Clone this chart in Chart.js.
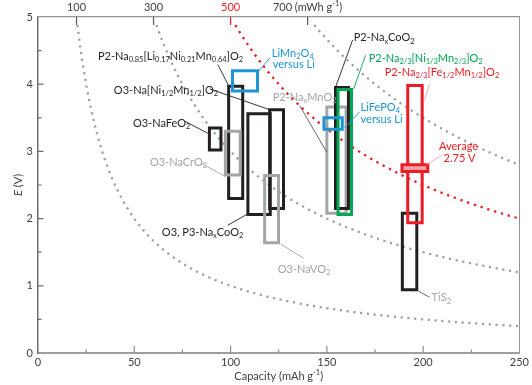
<!DOCTYPE html>
<html>
<head>
<meta charset="utf-8">
<script src="https://cdn.jsdelivr.net/npm/chart.js@4.4.0/dist/chart.umd.min.js"></script>
<style>
  html, body { margin: 0; padding: 0; background: #fff; }
  .canvas-container { width: 532px; height: 385px; }
</style>
</head>
<body>
<div class="canvas-container"><canvas id="chart"></canvas></div>
<script>
// capacity window (mAh/g) and voltage window (V) of each electrode
// listed in drawing order, bottom first
const materials = [
  'P2-NaxMnO2', 'O3-NaFeO2', 'P2-Na0.85[Li0.17Ni0.21Mn0.64]O2', 'O3,P3-NaxCoO2',
  'O3-Na[Ni1/2Mn1/2]O2', 'TiS2', 'P2-NaxCoO2', 'O3-NaCrO2', 'O3-NaVO2',
  'P2-Na2/3[Ni1/3Mn2/3]O2', 'P2-Na2/3[Fe1/2Mn1/2]O2', 'Average', 'LiMn2O4', 'LiFePO4'
];
const capacityMin = [150, 89, 99, 109, 120.3, 189.2, 154.5, 97.3, 117.7, 155.8, 192, 189, 101, 148.5];
const capacityMax = [160, 95, 106.3, 120.6, 127.5, 196.7, 161.2, 105, 124.9, 162.8, 199.5, 202.4, 114, 158];
const voltageMin = [2.08, 3.02, 2.3, 2.06, 2.15, 0.94, 2.15, 2.65, 1.64, 2.06, 1.94, 2.70, 3.9, 3.33];
const voltageMax = [3.66, 3.35, 3.97, 3.56, 3.62, 2.08, 3.95, 3.3, 2.64, 3.92, 3.98, 2.80, 4.2, 3.5];

// iso-energy curves (mWh/g) and their labels on the top axis
const energyLevels = [100, 300, 500, 700];
const energyLabels = ['100', '300', '500', '700 (mWh g^{-1})'];

const BLACK = '#231f20', GRAY = '#a3a5a8', BLUE = '#1b95d3', GREEN = '#00a651',
      RED = '#ed1c24', PINK = '#f4a3a8', AXIS_TEXT = '#414042';

const boxColor = {
  'P2-NaxMnO2': GRAY, 'O3-NaCrO2': GRAY, 'O3-NaVO2': GRAY,
  'P2-Na2/3[Ni1/3Mn2/3]O2': GREEN, 'P2-Na2/3[Fe1/2Mn1/2]O2': RED, 'Average': RED,
  'LiMn2O4': BLUE, 'LiFePO4': BLUE
};
const boxFill = { 'Average': PINK };

// text labels, placed in data units, with leader lines
const notes = [
  {text: 'P2-Na_{0.85}[Li_{0.17}Ni_{0.21}Mn_{0.64}]O_{2}', color: BLACK, at: [31.1, 4.42], leader: [93.4, 4.29, 99.1, 3.97]},
  {text: 'O3-Na[Ni_{1/2}Mn_{1/2}]O_{2}', color: BLACK, at: [39.4, 3.91], leader: [89.2, 3.93, 120.3, 3.62]},
  {text: 'O3-NaFeO_{2}', color: BLACK, at: [49.3, 3.42], leader: [76.2, 3.45, 88.2, 3.27]},
  {text: 'O3-NaCrO_{2}', color: GRAY, at: [58.1, 2.84], leader: [84.5, 2.83, 97.0, 2.63]},
  {text: 'O3, P3-Na_{x}CoO_{2}', color: BLACK, at: [64.3, 1.79], leader: [98.5, 1.90, 108.9, 2.07]},
  {text: 'O3-NaVO_{2}', color: GRAY, at: [124.5, 1.25], leader: [138.0, 1.41, 126.0, 1.62]},
  {text: 'TiS_{2}', color: GRAY, at: [204.4, 0.82], leader: [197.6, 0.92, 203.3, 0.83], leaderColor: '#58595b'},
  {text: 'LiMn_{2}O_{4}', color: BLUE, at: [121.4, 4.46], leader: [120.3, 4.39, 114.1, 4.18]},
  {text: 'versus Li', color: BLUE, at: [121.9, 4.29]},
  {text: 'P2-Na_{x}MnO_{2}', color: GRAY, at: [121.9, 3.81], leader: [135.9, 3.68, 149.9, 2.99], leaderColor: '#58595b'},
  {text: 'P2-Na_{x}CoO_{2}', color: BLACK, at: [163.9, 4.69], leader: [163.4, 4.66, 154.6, 3.96]},
  {text: 'P2-Na_{2/3}[Ni_{1/3}Mn_{2/3}]O_{2}', color: GREEN, at: [171.7, 4.38], leader: [170.1, 4.43, 163.9, 3.93]},
  {text: 'P2-Na_{2/3}[Fe_{1/2}Mn_{1/2}]O_{2}', color: RED, at: [180.0, 4.17], leader: [203.3, 4.0, 200.7, 3.76], leaderColor: PINK},
  {text: 'LiFePO_{4}', color: BLUE, at: [167.5, 3.65], leader: [159.2, 3.35, 167.0, 3.59]},
  {text: 'versus Li', color: BLUE, at: [167.5, 3.47]},
  {text: 'Average', color: RED, at: [218.4, 3.07], align: 'center', leader: [201.8, 2.80, 210.1, 2.95], leaderColor: PINK},
  {text: '2.75 V', color: RED, at: [218.9, 2.89], align: 'center'}
];

const FONT = 'Lato';

function parseRich(str) {
  const out = [];
  let i = 0;
  const isMark = (k) => (str[k] === '_' || str[k] === '^' || str[k] === '*') && str[k + 1] === '{';
  while (i < str.length) {
    if (isMark(i)) {
      const end = str.indexOf('}', i);
      out.push({t: str.slice(i + 2, end), mode: str[i]});
      i = end + 1;
    } else {
      let j = i;
      while (j < str.length && !isMark(j)) j++;
      out.push({t: str.slice(i, j), mode: 'n'});
      i = j;
    }
  }
  return out;
}

function drawRich(ctx, str, x, y, color, align, size) {
  size = size || 11;
  const segs = parseRich(str);
  const fontFor = (s) => {
    if (s.mode === '*') return 'italic ' + size + 'px ' + FONT;
    return (s.mode === 'n' ? size : size * 0.68) + 'px ' + FONT;
  };
  let w = 0;
  segs.forEach(s => { ctx.font = fontFor(s); s.w = ctx.measureText(s.t).width; w += s.w; });
  let cx = align === 'center' ? x - w / 2 : (align === 'right' ? x - w : x);
  ctx.fillStyle = color;
  ctx.textAlign = 'left';
  ctx.textBaseline = 'middle';
  segs.forEach(s => {
    ctx.font = fontFor(s);
    const dy = s.mode === '_' ? size * 0.3 : (s.mode === '^' ? -size * 0.32 : 0);
    ctx.fillText(s.t, cx, y + dy);
    cx += s.w;
  });
}

const datasets = materials.map((m, i) => {
  const x0 = capacityMin[i], x1 = capacityMax[i], y0 = voltageMin[i], y1 = voltageMax[i];
  return {
    label: m,
    data: [{x: x0, y: y0}, {x: x1, y: y0}, {x: x1, y: y1}, {x: x0, y: y1}, {x: x0, y: y0}, {x: x1, y: y0}],
    showLine: true,
    borderColor: boxColor[m] || BLACK,
    backgroundColor: boxFill[m] || 'transparent',
    fill: boxFill[m] ? 'shape' : false,
    borderWidth: 3,
    borderJoinStyle: 'miter',
    pointRadius: 0,
    tension: 0,
    order: materials.length - i
  };
});

const overlay = {
  id: 'overlay',
  beforeDatasetsDraw(chart) {
    const {ctx, chartArea: a, scales: {x, y, xTop}} = chart;
    ctx.save();
    ctx.beginPath();
    ctx.rect(a.left, a.top, a.right - a.left, a.bottom - a.top);
    ctx.clip();
    // iso-energy curves E = W / C
    energyLevels.forEach(w => {
      ctx.beginPath();
      let first = true;
      for (let c = w / 4.88; c <= 250.5; c += 0.5) {
        const px = x.getPixelForValue(c), py = y.getPixelForValue(w / c);
        if (first) { ctx.moveTo(px, py); first = false; } else ctx.lineTo(px, py);
      }
      ctx.strokeStyle = w === 500 ? RED : '#9d9fa2';
      ctx.lineWidth = 2.3;
      ctx.setLineDash(w === 500 ? [2.3, 4.8] : [2.2, 4.6]);
      ctx.stroke();
    });
    ctx.setLineDash([]);
    // inward ticks
    ctx.lineWidth = 1.2;
    ctx.strokeStyle = '#6d6e71';
    for (let v = 0.5; v < 5; v += 0.5) {
      const py = y.getPixelForValue(v);
      const len = Number.isInteger(v) ? 5.5 : 3.5;
      ctx.beginPath(); ctx.moveTo(a.left, py); ctx.lineTo(a.left + len, py); ctx.stroke();
    }
    ctx.strokeStyle = '#8a8c8f';
    for (let c = 25; c < 250; c += 25) {
      const px = x.getPixelForValue(c);
      const len = c % 50 === 0 ? 7 : 3.5;
      ctx.beginPath(); ctx.moveTo(px, a.bottom); ctx.lineTo(px, a.bottom - len); ctx.stroke();
    }
    energyLevels.forEach(w => {
      const px = xTop.getPixelForValue(w);
      ctx.strokeStyle = w === 500 ? RED : '#58595b';
      ctx.beginPath(); ctx.moveTo(px, a.top); ctx.lineTo(px, a.top + 8); ctx.stroke();
    });
    ctx.restore();
  },
  afterDatasetsDraw(chart) {
    const {ctx, chartArea: a, scales: {x, y, xTop}} = chart;
    ctx.save();
    notes.forEach(n => {
      if (n.leader) {
        const l = n.leader;
        ctx.beginPath();
        ctx.moveTo(x.getPixelForValue(l[0]), y.getPixelForValue(l[1]));
        ctx.lineTo(x.getPixelForValue(l[2]), y.getPixelForValue(l[3]));
        ctx.strokeStyle = n.leaderColor || n.color;
        ctx.lineWidth = 0.9;
        ctx.stroke();
      }
    });
    notes.forEach(n => {
      drawRich(ctx, n.text, x.getPixelForValue(n.at[0]), y.getPixelForValue(n.at[1]), n.color, n.align || 'left', 11);
    });
    // top axis labels
    energyLevels.forEach((w, i) => {
      drawRich(ctx, energyLabels[i], xTop.getPixelForValue(w), 7, w === 500 ? RED : AXIS_TEXT, 'center', 11);
    });
    // axis titles
    drawRich(ctx, 'Capacity (mAh g^{-1})', (a.left + a.right) / 2, 376, AXIS_TEXT, 'center', 11);
    ctx.translate(18, (a.top + a.bottom) / 2);
    ctx.rotate(-Math.PI / 2);
    drawRich(ctx, '*{E} (V)', 0, 0, AXIS_TEXT, 'center', 11);
    ctx.restore();
  }
};

new Chart(document.getElementById('chart'), {
  type: 'scatter',
  data: { datasets },
  options: {
    responsive: true,
    maintainAspectRatio: false,
    animation: false,
    layout: { padding: 0 },
    plugins: { legend: { display: false }, tooltip: { enabled: false } },
    scales: {
      x: {
        type: 'linear', position: 'bottom', min: 0, max: 250,
        ticks: { stepSize: 50, color: AXIS_TEXT, font: { family: FONT, size: 11 }, padding: 3, maxRotation: 0 },
        grid: { display: false, drawTicks: false },
        border: { color: '#9d9fa2', width: 2 },
        afterFit(s) { s.height = 32; }
      },
      y: {
        type: 'linear', position: 'left', min: 0, max: 5,
        ticks: { stepSize: 1, color: AXIS_TEXT, font: { family: FONT, size: 11 }, padding: 5 },
        grid: { display: false, drawTicks: false },
        border: { color: '#6d6e71', width: 1.5 },
        afterFit(s) { s.width = 38; }
      },
      xTop: {
        type: 'linear', position: 'top', min: 0, max: 1250,
        ticks: { display: false },
        grid: { display: false, drawTicks: false },
        border: { color: '#939598', width: 1.2 },
        afterFit(s) { s.height = 17; }
      },
      yRight: {
        type: 'linear', position: 'right', min: 0, max: 5,
        ticks: { display: false },
        grid: { display: false, drawTicks: false },
        border: { color: '#939598', width: 1 },
        afterFit(s) { s.width = 12; }
      }
    }
  },
  plugins: [overlay]
});
</script>
</body>
</html>
